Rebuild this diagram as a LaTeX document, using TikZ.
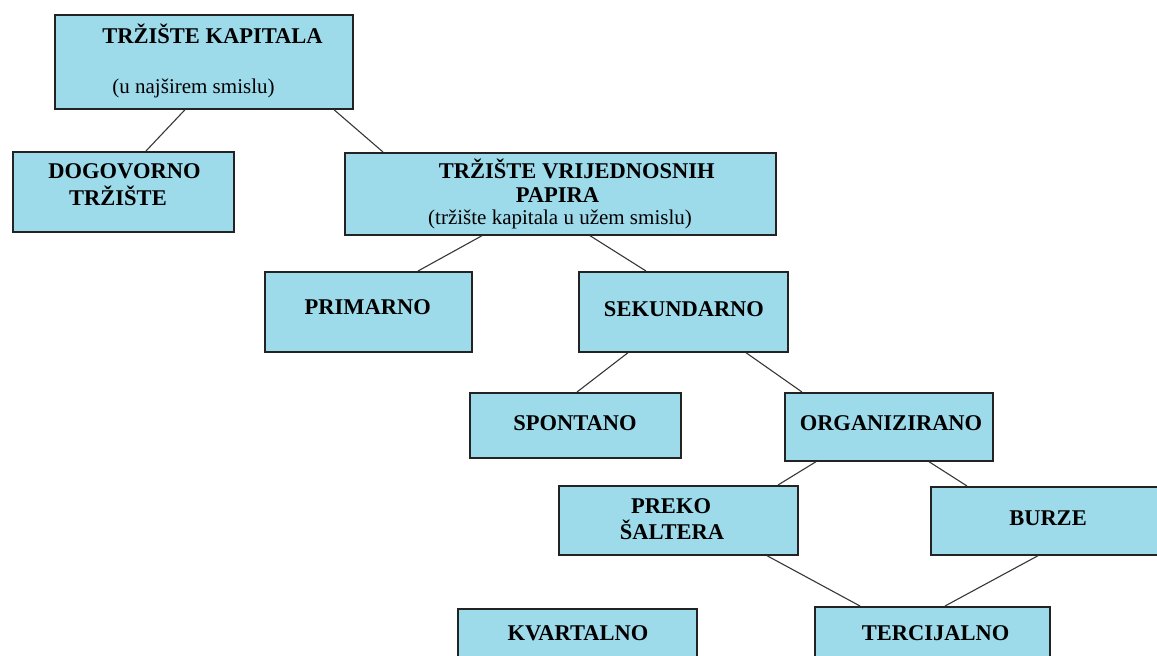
\documentclass[tikz,border=0pt]{standalone}
\usepackage{fontspec}
\setmainfont{Liberation Serif}
\definecolor{boxfill}{RGB}{157,218,234}
\definecolor{boxline}{RGB}{35,35,35}
\definecolor{linkcol}{RGB}{55,55,55}
\tikzset{
  box/.style={draw=boxline, line width=1.7pt, fill=boxfill, rectangle, inner sep=0pt, anchor=north west},
  bt/.style={anchor=base, inner sep=0pt, font=\fontsize{22.5}{27}\selectfont\bfseries, text=black},
  rt/.style={anchor=base, inner sep=0pt, font=\fontsize{21}{25}\selectfont, text=black},
  link/.style={draw=linkcol, line width=1.1pt}
}
\begin{document}
\begin{tikzpicture}[x=1pt, y=-1pt]
\useasboundingbox (0,0) rectangle (1157,656);
\clip (0,0) rectangle (1157,656);
\fill[white] (0,0) rectangle (1157,656);
% boxes
\node[box, minimum width=298pt, minimum height=94pt] (k) at (54,14) {};
\node[box, minimum width=221pt, minimum height=80pt] (d) at (12,151) {};
\node[box, minimum width=431pt, minimum height=82pt] (v) at (344,152) {};
\node[box, minimum width=207pt, minimum height=80pt] (p) at (264,271) {};
\node[box, minimum width=209pt, minimum height=80pt] (s) at (578,271) {};
\node[box, minimum width=211pt, minimum height=65pt] (sp) at (469,392) {};
\node[box, minimum width=208pt, minimum height=68pt] (o) at (784,392) {};
\node[box, minimum width=239pt, minimum height=69pt] (ps) at (558,485) {};
\node[box, minimum width=240pt, minimum height=68pt] (b) at (930,486) {};
\node[box, minimum width=239pt, minimum height=72pt] (kv) at (457,608) {};
\node[box, minimum width=235pt, minimum height=74pt] (t) at (814,606) {};
% texts
\node[bt] (k1) at (212.5,43) {TRŽIŠTE KAPITALA};
\node[rt] (k2) at (193.5,93) {(u najširem smislu)};
\node[bt] (d1) at (124.5,178) {DOGOVORNO};
\node[bt] (d2) at (118,205) {TRŽIŠTE};
\node[bt] (v1) at (576.7,178) {TRŽIŠTE VRIJEDNOSNIH};
\node[bt] (v2) at (557.5,202) {PAPIRA};
\node[rt] (v3) at (560,224) {(tržište kapitala u užem smislu)};
\node[bt] (p1) at (367.8,314) {PRIMARNO};
\node[bt] (s1) at (684,316.5) {SEKUNDARNO};
\node[bt] (sp1) at (575,430) {SPONTANO};
\node[bt] (o1) at (891,430) {ORGANIZIRANO};
\node[bt] (ps1) at (671,513) {PREKO};
\node[bt] (ps2) at (672,539) {ŠALTERA};
\node[bt] (b1) at (1048,525.5) {BURZE};
\node[bt] (kv1) at (578,640) {KVARTALNO};
\node[bt] (t1) at (935.7,640) {TERCIJALNO};
% connectors
\draw[link] ([xshift=131pt]k.south west) -- ([xshift=134pt]d.north west);
\draw[link] ([xshift=280pt]k.south west) -- ([xshift=39pt]v.north west);
\draw[link] ([xshift=138pt]v.south west) -- ([xshift=154pt]p.north west);
\draw[link] ([xshift=246pt]v.south west) -- ([xshift=68pt]s.north west);
\draw[link] ([xshift=50pt]s.south west) -- ([xshift=108pt]sp.north west);
\draw[link] ([xshift=168pt]s.south west) -- ([xshift=18pt]o.north west);
\draw[link] ([xshift=32pt]o.south west) -- ([xshift=220pt]ps.north west);
\draw[link] ([xshift=145pt]o.south west) -- ([xshift=37pt]b.north west);
\draw[link] ([xshift=209pt]ps.south west) -- ([xshift=46pt]t.north west);
\draw[link] ([xshift=108pt]b.south west) -- ([xshift=131pt]t.north west);
\end{tikzpicture}
\end{document}
